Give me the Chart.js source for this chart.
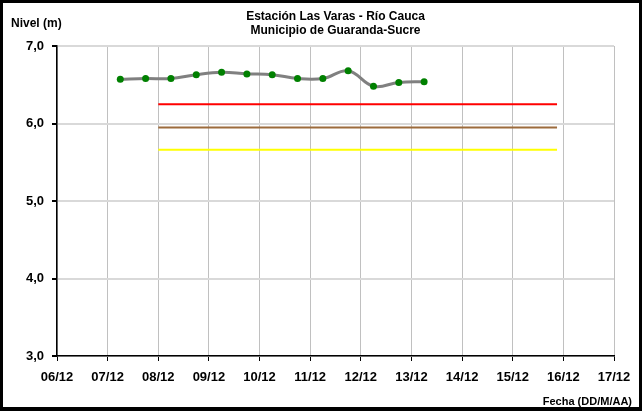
<!DOCTYPE html>
<html>
<head>
<meta charset="utf-8">
<title>Estación Las Varas - Río Cauca</title>
<script src="https://cdn.jsdelivr.net/npm/chart.js@4"></script>
<style>
    body { margin: 0; background: #fff; }
    #wrap { position: relative; width: 642px; height: 411px; }
    #marco {
        position: absolute; left: 0; top: 0; width: 642px; height: 411px;
        box-sizing: border-box; border: 3px solid #000; border-bottom-width: 4px;
        pointer-events: none;
    }
</style>
</head>
<body>
<div id="wrap">
    <canvas id="nivelChart" width="642" height="411"></canvas>
    <div id="marco"></div>
</div>
<script>
// Lecturas de nivel (m), dos por día
const fechas = ['07/12 06:00', '07/12 18:00', '08/12 06:00', '08/12 18:00', '09/12 06:00',
    '09/12 18:00', '10/12 06:00', '10/12 18:00', '11/12 06:00', '11/12 18:00',
    '12/12 06:00', '12/12 18:00', '13/12 06:00'];
const niveles = [6.57, 6.58, 6.58, 6.63, 6.66, 6.64, 6.63, 6.58, 6.58, 6.68, 6.48, 6.53, 6.54];

// Niveles de alerta: roja, naranja (café) y amarilla
const alertaNombres = ['Alerta roja', 'Alerta naranja', 'Alerta amarilla'];
const alertaValores = [6.25, 5.95, 5.66];
const alertaColores = ['#ff0000', '#9c6b3c', '#ffff00'];
const alertaInicio = '08/12 00:00';
const alertaFin = '15/12 21:00';

// Etiquetas del eje de fechas
const diasEje = ['06/12', '07/12', '08/12', '09/12', '10/12', '11/12',
    '12/12', '13/12', '14/12', '15/12', '16/12', '17/12'];

// 'DD/MM hh:mm' -> día con fracción
function aDia(txt) {
    const partes = txt.split(' ');
    const hm = partes[1].split(':');
    return parseInt(partes[0].split('/')[0], 10) + (parseInt(hm[0], 10) + parseInt(hm[1], 10) / 60) / 24;
}

const diaMin = aDia(diasEje[0] + ' 00:00');
const diaMax = aDia(diasEje[diasEje.length - 1] + ' 00:00');

const fuente = 'Arial, "Liberation Sans", sans-serif';

const datasets = alertaValores.map(function(v, i) {
    return {
        label: alertaNombres[i],
        data: [{ x: aDia(alertaInicio), y: v }, { x: aDia(alertaFin), y: v }],
        borderColor: alertaColores[i],
        borderWidth: 2,
        pointRadius: 0
    };
});

datasets.push({
    label: 'Nivel',
    data: fechas.map(function(f, i) { return { x: aDia(f), y: niveles[i] }; }),
    borderColor: '#808080',
    borderWidth: 3,
    tension: 0.4,
    pointRadius: 3.5,
    pointBackgroundColor: '#008000',
    pointBorderColor: '#008000',
    pointBorderWidth: 0
});

// Títulos y rótulos de ejes dibujados sobre el lienzo
const rotulos = {
    id: 'rotulos',
    afterDraw: function(chart) {
        const ctx = chart.ctx;
        const area = chart.chartArea;
        const cx = (area.left + area.right) / 2;
        ctx.save();
        ctx.fillStyle = '#000';
        ctx.textBaseline = 'middle';
        ctx.font = 'bold 12px ' + fuente;
        ctx.textAlign = 'center';
        ctx.fillText('Estación Las Varas - Río Cauca', cx, 17);
        ctx.fillText('Municipio de Guaranda-Sucre', cx, 31);
        ctx.textAlign = 'left';
        ctx.fillText('Nivel (m)', 11, 24);
        ctx.font = 'bold 11px ' + fuente;
        ctx.textAlign = 'right';
        ctx.fillText('Fecha (DD/M/AA)', 632, 402);
        ctx.restore();
    }
};

new Chart(document.getElementById('nivelChart'), {
    type: 'line',
    data: { datasets: datasets },
    options: {
        responsive: false,
        animation: false,
        layout: { padding: { left: 0, right: 28, top: 46, bottom: 0 } },
        plugins: {
            legend: { display: false },
            title: { display: false },
            tooltip: { enabled: false }
        },
        scales: {
            x: {
                type: 'linear',
                min: diaMin,
                max: diaMax,
                afterFit: function(scale) { scale.height = 55; },
                ticks: {
                    stepSize: 1,
                    autoSkip: false,
                    maxRotation: 0,
                    padding: 9,
                    color: '#000',
                    font: { family: fuente, size: 13, weight: 'bold' },
                    callback: function(value) {
                        return diasEje[Math.round(value - diaMin)];
                    }
                },
                grid: {
                    color: '#c0c0c0',
                    lineWidth: 1,
                    tickColor: '#000',
                    tickLength: 5
                },
                border: { color: '#000', width: 1.5 }
            },
            y: {
                min: 3,
                max: 7,
                afterFit: function(scale) { scale.width = 57; },
                ticks: {
                    stepSize: 1,
                    padding: 8,
                    color: '#000',
                    font: { family: fuente, size: 13, weight: 'bold' },
                    callback: function(value) {
                        return value.toFixed(1).replace('.', ',');
                    }
                },
                grid: {
                    color: '#d9d9d9',
                    lineWidth: 2,
                    tickColor: '#000',
                    tickLength: 5
                },
                border: { color: '#000', width: 1.5 }
            }
        }
    },
    plugins: [rotulos]
});
</script>
</body>
</html>
